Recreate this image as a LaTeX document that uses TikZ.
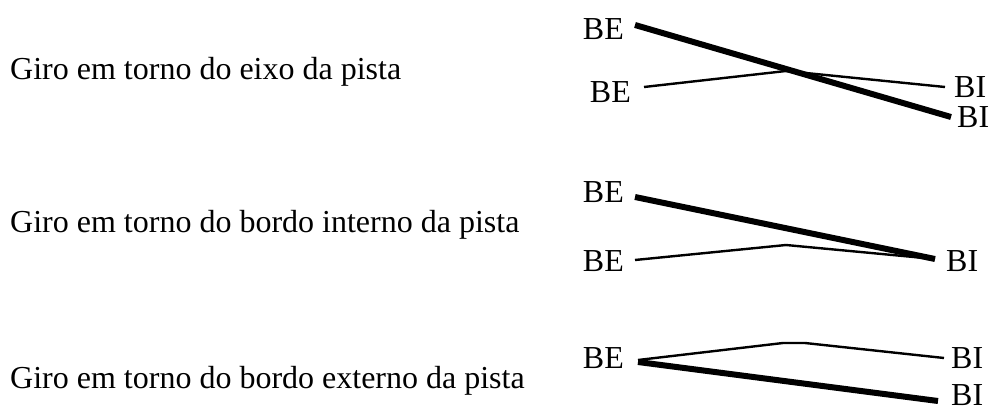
\documentclass[tikz,border=0pt]{standalone}
\usepackage{fontspec}
\setmainfont{Liberation Serif}
\begin{document}
\begin{tikzpicture}[x=1pt,y=-1pt,
  lbl/.style={inner sep=0pt, font=\fontsize{32}{36}\selectfont},
  heavyln/.style={line width=6pt},
  lightln/.style={line width=2.4pt, line join=round}]
\useasboundingbox (0,0) rectangle (990,414);
% left captions
\node[lbl, anchor=base west] (c1) at (10,80) {Giro em torno do eixo da pista};
\node[lbl, anchor=base west] (c2) at (10,233) {Giro em torno do bordo interno da pista};
\node[lbl, anchor=base west] (c3) at (10,388) {Giro em torno do bordo externo da pista};
% panel 1
\node[lbl, anchor=east] (be1) at (624,29) {BE};
\node[lbl, anchor=east] (be2) at (631,92) {BE};
\node[lbl, anchor=west] (bi1) at (954,87) {BI};
\node[lbl, anchor=west] (bi2) at (957,117) {BI};
\coordinate (a1) at (635,25); \coordinate (a2) at (951,117);
\coordinate (b1) at (644,87); \coordinate (bm) at (786,71); \coordinate (b2) at (945,87);
\draw[heavyln] (a1) -- (a2);
\draw[lightln] (b1) -- (bm) -- (b2);
% panel 2
\node[lbl, anchor=east] (be3) at (624,192) {BE};
\node[lbl, anchor=east] (be4) at (624,261) {BE};
\node[lbl, anchor=west] (bi3) at (946,261) {BI};
\coordinate (c1s) at (635,197); \coordinate (c1e) at (935,259);
\coordinate (d1) at (635,260); \coordinate (dm) at (786,245); \coordinate (d2) at (935,259);
\draw[heavyln] (c1s) -- (c1e);
\draw[lightln] (d1) -- (dm) -- (d2);
% panel 3
\node[lbl, anchor=east] (be5) at (624,358) {BE};
\node[lbl, anchor=west] (bi4) at (951,358) {BI};
\node[lbl, anchor=west] (bi5) at (951,395) {BI};
\coordinate (e1) at (638,360); \coordinate (em1) at (783,343); \coordinate (em2) at (805,343); \coordinate (e2) at (944,358);
\coordinate (f1) at (638,362); \coordinate (f2) at (938,401);
\draw[lightln] (e1) -- (em1) -- (em2) -- (e2);
\draw[heavyln] (f1) -- (f2);
\end{tikzpicture}
\end{document}
